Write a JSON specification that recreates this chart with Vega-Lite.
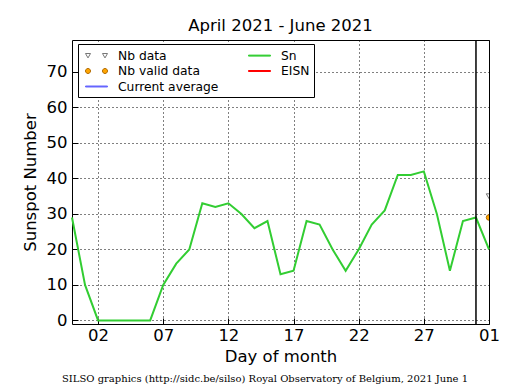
{
  "$schema": "https://vega.github.io/schema/vega-lite/v6.json",
  "width": 417,
  "height": 284,
  "autosize": {"type": "none"},
  "padding": {"left": 72, "top": 40, "right": 26, "bottom": 66},
  "title": {"text": "April 2021 - June 2021", "font": "DejaVu Sans", "fontSize": 16.5, "fontWeight": "normal", "color": "black", "offset": -8, "baseline": "alphabetic", "anchor": "middle"},
  "datasets": {
    "sn": [
      {"date": "2021-04-30", "value": 29},
      {"date": "2021-05-01", "value": 10},
      {"date": "2021-05-02", "value": 0},
      {"date": "2021-05-03", "value": 0},
      {"date": "2021-05-04", "value": 0},
      {"date": "2021-05-05", "value": 0},
      {"date": "2021-05-06", "value": 0},
      {"date": "2021-05-07", "value": 10},
      {"date": "2021-05-08", "value": 16},
      {"date": "2021-05-09", "value": 20},
      {"date": "2021-05-10", "value": 33},
      {"date": "2021-05-11", "value": 32},
      {"date": "2021-05-12", "value": 33},
      {"date": "2021-05-13", "value": 30},
      {"date": "2021-05-14", "value": 26},
      {"date": "2021-05-15", "value": 28},
      {"date": "2021-05-16", "value": 13},
      {"date": "2021-05-17", "value": 14},
      {"date": "2021-05-18", "value": 28},
      {"date": "2021-05-19", "value": 27},
      {"date": "2021-05-20", "value": 20},
      {"date": "2021-05-21", "value": 14},
      {"date": "2021-05-22", "value": 20},
      {"date": "2021-05-23", "value": 27},
      {"date": "2021-05-24", "value": 31},
      {"date": "2021-05-25", "value": 41},
      {"date": "2021-05-26", "value": 41},
      {"date": "2021-05-27", "value": 42},
      {"date": "2021-05-28", "value": 30},
      {"date": "2021-05-29", "value": 14},
      {"date": "2021-05-30", "value": 28},
      {"date": "2021-05-31", "value": 29},
      {"date": "2021-06-01", "value": 20}
    ],
    "marker": [{"date": "2021-05-31"}],
    "nbdata": [{"date": "2021-06-01", "value": 35}],
    "nbvalid": [{"date": "2021-06-01", "value": 29}],
    "credit": [{"text": "SILSO graphics (http://sidc.be/silso) Royal Observatory of Belgium, 2021 June 1"}],
    "legend": [
      {"series": "Nb data"},
      {"series": "Nb valid data"},
      {"series": "Current average"},
      {"series": "Sn"},
      {"series": "EISN"}
    ]
  },
  "layer": [
    {
      "data": {"name": "sn"},
      "mark": {"type": "line", "color": "#32cd32", "strokeWidth": 2},
      "encoding": {
        "x": {"field": "date", "type": "temporal",
          "scale": {"type": "utc", "domain": [{"year": 2021, "month": 4, "date": 30, "utc": true}, {"year": 2021, "month": 6, "date": 1, "utc": true}]},
          "axis": {"orient": "bottom", "format": "%d", "ticks": true, "tickSize": -6, "tickColor": "black", "domain": false, "grid": true, "gridColor": "black", "gridDash": [1, 3], "gridWidth": 1, "gridOpacity": 1, "labelPadding": 9, "labelFlush": false, "labelOverlap": false, "title": "Day of month", "titlePadding": 5,
            "values": [
              {"year": 2021, "month": 5, "date": 2, "utc": true},
              {"year": 2021, "month": 5, "date": 7, "utc": true},
              {"year": 2021, "month": 5, "date": 12, "utc": true},
              {"year": 2021, "month": 5, "date": 17, "utc": true},
              {"year": 2021, "month": 5, "date": 22, "utc": true},
              {"year": 2021, "month": 5, "date": 27, "utc": true},
              {"year": 2021, "month": 6, "date": 1, "utc": true}
            ]}},
        "y": {"field": "value", "type": "quantitative",
          "scale": {"domain": [-1, 79], "nice": false, "zero": false},
          "axis": {"orient": "left", "values": [0, 10, 20, 30, 40, 50, 60, 70], "ticks": true, "tickSize": -6, "tickColor": "black", "domain": false, "grid": true, "gridColor": "black", "gridDash": [1, 3], "gridWidth": 1, "gridOpacity": 1, "labelPadding": 11, "title": "Sunspot Number", "titlePadding": 8}}
      }
    },
    {
      "data": {"name": "marker"},
      "mark": {"type": "rule", "color": "black", "strokeWidth": 1.5},
      "encoding": {
        "x": {"field": "date", "type": "temporal"}
      }
    },
    {
      "data": {"name": "nbdata"},
      "mark": {"type": "point", "shape": "triangle-down", "fill": "white", "stroke": "#777777", "strokeWidth": 1, "size": 30, "opacity": 1, "clip": true},
      "encoding": {
        "x": {"field": "date", "type": "temporal"},
        "y": {"field": "value", "type": "quantitative"}
      }
    },
    {
      "data": {"name": "nbvalid"},
      "mark": {"type": "point", "shape": "circle", "fill": "#ffa500", "stroke": "#b36b00", "strokeWidth": 1, "size": 30, "opacity": 1, "clip": true},
      "encoding": {
        "x": {"field": "date", "type": "temporal"},
        "y": {"field": "value", "type": "quantitative"}
      }
    },
    {
      "data": {"name": "credit"},
      "mark": {"type": "text", "font": "DejaVu Serif", "fontSize": 10, "color": "black", "align": "center", "baseline": "middle", "clip": false},
      "encoding": {
        "x": {"datum": {"year": 2021, "month": 5, "date": 14, "hours": 19, "minutes": 30, "utc": true}, "type": "temporal"},
        "y": {"datum": -16.5, "type": "quantitative"},
        "text": {"field": "text", "type": "nominal"}
      }
    },
    {
      "data": {"name": "legend"},
      "mark": {"type": "point", "size": 196, "opacity": 1, "strokeWidth": 1, "filled": true},
      "encoding": {
        "x": {"field": "date", "type": "temporal"},
        "y": {"field": "value", "type": "quantitative"},
        "shape": {"field": "series", "type": "nominal",
          "scale": {"domain": ["Nb data", "Nb valid data", "Current average", "Sn", "EISN"],
            "range": [
              "M-0.574,-0.3L0.146,-0.3L-0.214,0.33ZM1.854,-0.3L2.574,-0.3L2.214,0.33Z",
              "M-0.574,0A0.36,0.36,0,1,0,0.146,0A0.36,0.36,0,1,0,-0.574,0ZM1.854,0A0.36,0.36,0,1,0,2.574,0A0.36,0.36,0,1,0,1.854,0Z",
              "M-0.571,-0.07H2.571V0.07H-0.571Z",
              "M-0.571,-0.07H2.571V0.07H-0.571Z",
              "M-0.571,-0.07H2.571V0.07H-0.571Z"
            ]},
          "legend": {"title": null, "orient": "none", "legendX": 6, "legendY": 4, "columns": 2}},
        "fill": {"field": "series", "type": "nominal",
          "scale": {"domain": ["Nb data", "Nb valid data", "Current average", "Sn", "EISN"],
            "range": ["#ffffff", "#ffa500", "#6666ff", "#32cd32", "#ff0000"]},
          "legend": {"title": null, "orient": "none", "legendX": 6, "legendY": 4, "columns": 2}},
        "stroke": {"field": "series", "type": "nominal",
          "scale": {"domain": ["Nb data", "Nb valid data", "Current average", "Sn", "EISN"],
            "range": ["#777777", "#b36b00", "#6666ff", "#32cd32", "#ff0000"]},
          "legend": {"title": null, "orient": "none", "legendX": 6, "legendY": 4, "columns": 2}}
      }
    }
  ],
  "config": {
    "font": "DejaVu Sans",
    "view": {"stroke": "black", "strokeWidth": 1},
    "axis": {"labelFont": "DejaVu Sans", "labelFontSize": 16.5, "labelColor": "black", "titleFont": "DejaVu Sans", "titleFontSize": 16.5, "titleFontWeight": "normal", "titleColor": "black", "tickColor": "black", "tickWidth": 1},
    "legend": {"strokeColor": "black", "fillColor": "white", "padding": 4, "cornerRadius": 0, "labelFont": "DejaVu Sans", "labelFontSize": 12.3, "labelColor": "black", "labelOffset": 21, "symbolSize": 196, "symbolStrokeWidth": 1, "symbolOpacity": 1, "columnPadding": 26, "rowPadding": 1.5, "symbolLimit": 0}
  }
}
